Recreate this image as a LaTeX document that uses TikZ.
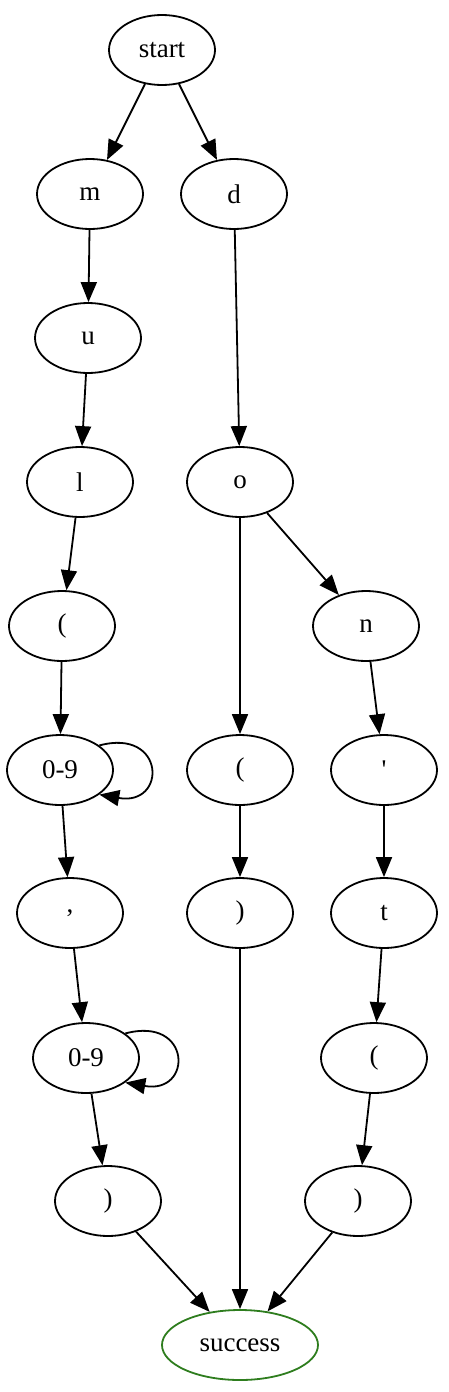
\documentclass[tikz,border=0pt]{standalone}
\usepackage{fontspec}
\setmainfont{Liberation Serif}
\usepackage{tikz}
\usetikzlibrary{arrows.meta, shapes.geometric}
\definecolor{forestgreen}{HTML}{2E7D1E}

\tikzset{
  tok/.style={ellipse, draw=black, line width=1.8pt, text=black,
    minimum width=106pt, minimum height=70pt, inner sep=0pt,
    font=\fontsize{27}{30}\selectfont},
  arr/.style={line width=1.8pt, -{Triangle[length=20pt,width=16pt]}}
}

\begin{document}
\begin{tikzpicture}[x=1pt, y=-1pt]
  \useasboundingbox (0, 0) rectangle (448, 1392);

  \node[tok] (start) at (162, 50) {start};
  \node[tok] (m) at (90, 194) {m};
  \node[tok] (d) at (234, 194) {d};

  \node[tok] (u) at (88, 338) {u};
  \node[tok] (l) at (80, 482) {l};
  \node[tok] (o) at (240, 482) {o};

  \node[tok] (lpar1) at (62, 626) {(};
  \node[tok] (n) at (366, 626) {n};

  \node[tok] (dig1) at (60, 770) {0-9};
  \node[tok] (lpar2) at (240, 770) {(};
  \node[tok] (apos) at (384, 770) {\textquotesingle};

  \node[tok] (comma) at (70, 913) {,};
  \node[tok] (rpar2) at (240, 913) {)};
  \node[tok] (t) at (384, 913) {t};

  \node[tok] (dig2) at (86, 1058) {0-9};
  \node[tok] (lpar3) at (374, 1058) {(};

  \node[tok] (rpar1) at (108, 1201) {)};
  \node[tok] (rpar3) at (358, 1201) {)};

  \node[tok, draw=forestgreen, minimum width=156pt] (success) at (240, 1345) {success};

  % mul(...) branch
  \draw[arr] (start) -- (m);
  \draw[arr] (m) -- (u);
  \draw[arr] (u) -- (l);
  \draw[arr] (l) -- (lpar1);
  \draw[arr] (lpar1) -- (dig1);
  \draw[arr] (dig1.32) to[out=15, in=-10, looseness=3.6] (dig1.-32);
  \draw[arr] (dig1) -- (comma);
  \draw[arr] (comma) -- (dig2);
  \draw[arr] (dig2.32) to[out=15, in=-10, looseness=3.6] (dig2.-32);
  \draw[arr] (dig2) -- (rpar1);
  \draw[arr] (rpar1) -- (success);

  % do() / don't() branch
  \draw[arr] (start) -- (d);
  \draw[arr] (d) -- (o);
  \draw[arr] (o) -- (lpar2);
  \draw[arr] (lpar2) -- (rpar2);
  \draw[arr] (rpar2) -- (success);
  \draw[arr] (o) -- (n);
  \draw[arr] (n) -- (apos);
  \draw[arr] (apos) -- (t);
  \draw[arr] (t) -- (lpar3);
  \draw[arr] (lpar3) -- (rpar3);
  \draw[arr] (rpar3) -- (success);
\end{tikzpicture}
\end{document}
